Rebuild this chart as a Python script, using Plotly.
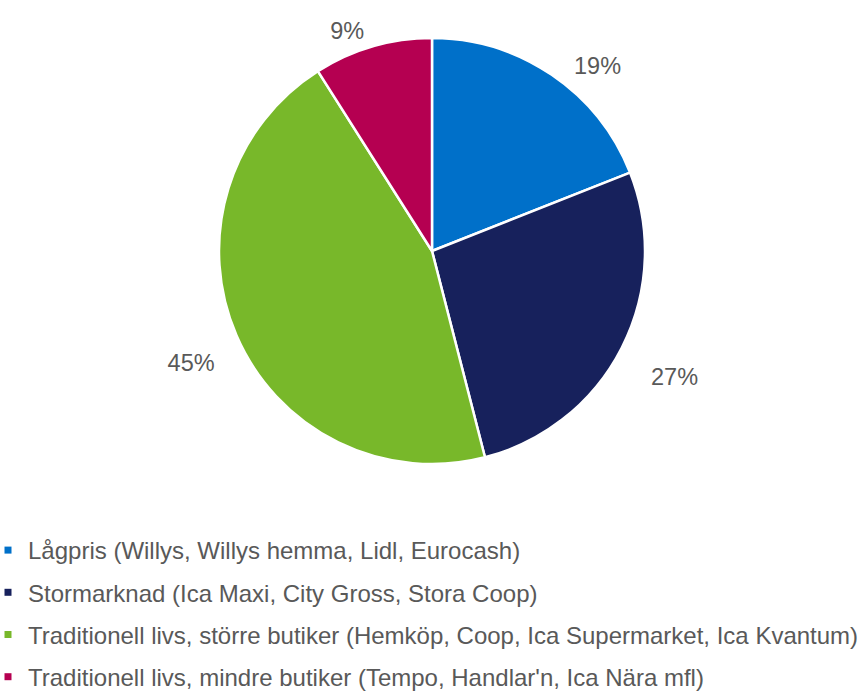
import plotly.graph_objects as go

labels = [
    "Lågpris (Willys, Willys hemma, Lidl, Eurocash)",
    "Stormarknad (Ica Maxi, City Gross, Stora Coop)",
    "Traditionell livs, större butiker (Hemköp, Coop, Ica Supermarket, Ica Kvantum)",
    "Traditionell livs, mindre butiker (Tempo, Handlar'n, Ica Nära mfl)",
]
values = [19, 27, 45, 9]
colors = ["#0070C9", "#17215C", "#78B82A", "#B50051"]

W, H = 859, 691
cx, cy, r = 432, 251, 213
lcx, lcy, rl = 436, 268, 234  # invisible ring that carries the percentage labels

def dom(x0, y0, rad):
    return dict(x=[(x0 - rad) / W, (x0 + rad) / W], y=[1 - (y0 + rad) / H, 1 - (y0 - rad) / H])

fig = go.Figure()
fig.add_trace(go.Pie(
    labels=labels, values=values, sort=False, direction="clockwise", rotation=0,
    marker=dict(colors=colors, line=dict(color="white", width=2.5)),
    textinfo="none", showlegend=False, hoverinfo="label+percent",
    domain=dom(cx, cy, r),
))
fig.add_trace(go.Pie(
    labels=labels, values=values, sort=False, direction="clockwise", rotation=0,
    marker=dict(colors=["rgba(0,0,0,0)"] * 4, line=dict(width=0)),
    textposition="outside", texttemplate="%{value}%",
    textfont=dict(size=23.5, color="#595959", family="Liberation Sans, Arial"),
    showlegend=False, hoverinfo="skip",
    domain=dom(lcx, lcy, rl),
))
for i, (lab, col) in enumerate(zip(labels, colors)):
    fig.add_trace(go.Scatter(
        x=[None], y=[None], mode="markers", name=lab,
        marker=dict(symbol="square", size=7, color=col),
        legendgroup=f"g{i}", showlegend=True,
    ))

fig.update_layout(
    width=W, height=H, margin=dict(l=0, r=0, t=0, b=0, autoexpand=False),
    paper_bgcolor="white", plot_bgcolor="white",
    font=dict(family="Liberation Sans, Arial", size=24, color="#595959"),
    xaxis=dict(visible=False), yaxis=dict(visible=False),
    legend=dict(x=0, xanchor="left", y=1 - 528 / H, yanchor="top",
                indentation=-12, tracegroupgap=8,
                font=dict(size=24, color="#595959"),
                bgcolor="rgba(0,0,0,0)"),
)
fig.write_html("out.html")
